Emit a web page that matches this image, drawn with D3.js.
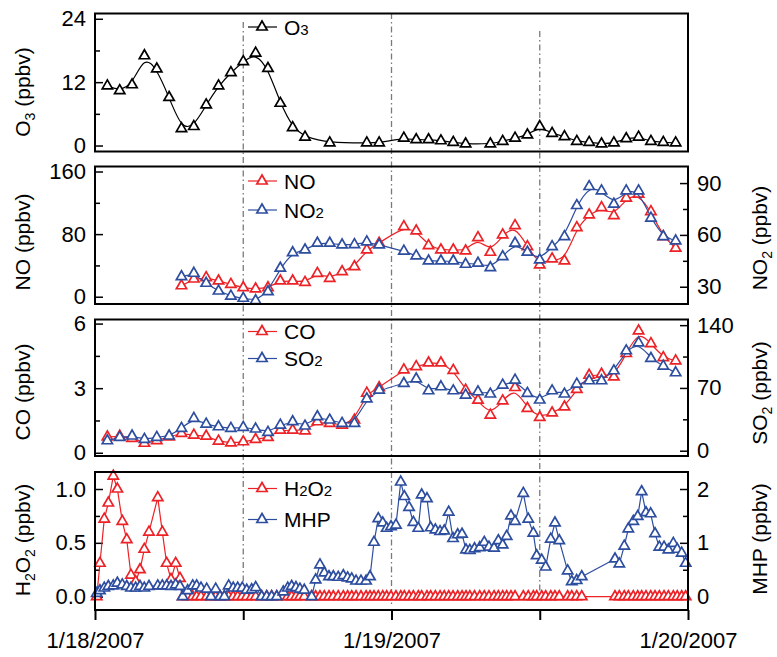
<!DOCTYPE html>
<html>
<head>
<meta charset="utf-8">
<script src="https://cdnjs.cloudflare.com/ajax/libs/d3/7.8.5/d3.min.js"></script>
<style>
  body { margin: 0; background: #fff; }
  svg { font-family: Arial, "Liberation Sans", sans-serif; }
</style>
</head>
<body>
<svg id="chart" width="777" height="657"></svg>
<script>
// hourly samples (hours after 1/18/2007 00:00)
const hours = [1, 2, 3, 4, 5, 6, 7, 8, 9, 10, 11, 12, 13, 14, 15, 16, 17, 18, 19, 20, 21, 22, 23, 24,
  25, 26, 27, 28, 29, 30, 31, 32, 33, 34, 35, 36, 37, 38, 39, 40, 41, 42, 43, 44, 45, 46, 47];

const o3 = [11.3, 10.4, 11.5, 17.0, 14.5, 9.1, 3.2, 3.6, 7.7, 11.3, 13.8, 15.9, 17.5, 14.6, 8.0, 3.4, 1.6, null,
  0.5, null, null, 0.5, 0.5, null, 1.4, 1.1, 1.1, 0.9, 0.6, 0.3, null, 0.3, 0.8, 1.4, 2.0, 3.6, 2.3, 1.7,
  0.8, 0.6, 0.3, 0.5, 1.3, 1.6, 0.8, 0.6, 0.5];

const no = [null, null, null, null, null, null, 14, 22.6, 24.4, 20.1, 15.8, 11.5, 9.9, 11.5, 20.1, 20.1, 18.4,
  29.9, 23.5, 32.0, 38.4, 59.8, 68.3, null, 89.6, 84.1, 65.3, 59.8, 59.8, 58.5, 75.5, 56.8, 79, 90.9, 64,
  40.6, 48.3, 45.7, 88.3, 104.6, 113.9, 103.7, 126, 131, 108.8, 76.8, 62];

const no2 = [null, null, null, null, null, null, 35.8, 37.8, 32, 27.5, 24.6, 23.3, 21.9, 27.1, 40.7, 49.7, 51.3,
  55.2, 55.2, 54.2, 54.4, 56.0, 54.2, null, 50.6, 47.9, 44.9, 44.9, 44.9, 43, 43.6, 41, 47.4, 55.2, 50,
  45.5, 53.2, 59, 77, 88, 85.5, 77.8, 85.5, 85.5, 69.7, 59, 56.5];

const co = [0.74, 0.77, 0.67, 0.44, 0.56, 0.74, 0.90, 0.82, 0.77, 0.54, 0.46, 0.51, 0.62, 0.71, 1.05, 1.05, 1.02,
  1.44, 1.36, 1.28, 1.52, 2.77, 3.02, null, 3.85, 4.0, 4.17, 4.17, 3.83, 2.91, 2.44, 1.75, 2.41, 3.03, 2.06,
  1.64, 1.85, 2.13, 2.94, 3.60, 3.65, 3.52, 4.61, 5.66, 5.07, 4.42, 4.27];

const so2 = [11.1, 14.9, 16.4, 12.7, 14.9, 16.4, 24.9, 36.1, 29.7, 26.7, 24.9, 26.1, 24.2, 20.5, 28.6, 32.3, 27.5,
  37.9, 34.2, 30.5, 30.5, 57.8, 67.6, null, 75, 80, 66.8, 71.3, 66.8, 62, 65.7, 63.2, 73.2, 78.7, 63.9,
  56.5, 66.8, 63.2, 74.3, 78, 78, 89.1, 111.4, 120.3, 102.9, 94.3, 86.9];

// peroxide samples (hours after 1/18/2007 00:00)
const t4 = [0.14, 0.40, 0.75, 1.08, 1.48, 1.81, 2.21, 2.57, 2.91, 3.29, 3.64, 3.99, 4.37, 5.08, 5.45, 5.80, 6.15,
  6.53, 6.88, 7.10, 7.50, 7.91, 8.23, 8.58, 9.04, 9.39, 9.77, 10.12, 10.47, 10.82, 11.19, 11.55, 11.92, 12.28,
  12.68, 13.01, 13.49, 13.90, 14.30, 14.71, 15.24, 15.60, 15.92, 16.27, 16.59, 16.94, 17.54, 17.86, 18.21,
  18.56, 18.94, 19.29, 19.69, 20.10, 20.45, 20.78, 21.13, 21.53, 21.94, 22.26, 22.58, 22.93, 23.29, 23.61,
  23.96, 24.36, 24.75, 25.04, 25.42, 25.77, 26.17, 26.44, 26.87, 27.17, 27.55, 27.93, 28.27, 28.63, 28.98,
  29.36, 29.71, 30.03, 30.34, 30.72, 31.14, 31.51, 31.89, 32.30, 32.65, 33.00, 33.32, 33.67, 34.00, 34.67,
  35.07, 35.48, 35.75, 36.16, 36.48, 36.89, 37.23, 37.58, 38.26, 38.59, 38.99, 39.40, 42.09, 42.44, 42.84,
  43.17, 43.57, 43.93, 44.25, 44.60, 44.98, 45.33, 45.68, 46.06, 46.41, 46.81, 47.13, 47.49, 47.81];

const h2o2 = [0.00, 0.31, 0.72, 0.87, 1.12, 1.00, 0.70, 0.53, 0.20, 0.14, 0.25, 0.44, 0.60, 0.92, 0.60, 0.31, 0.16,
  0.31, 0.17, 0, 0, 0, 0, 0, 0, 0, 0, 0, 0, 0, 0, 0, 0, 0, 0, 0, 0, 0, 0, 0, 0, 0, 0, 0, 0, 0, 0, 0, 0,
  0, 0, 0, 0, 0, 0, 0, 0, 0, 0, 0, 0, 0, 0, 0, 0, 0, 0, 0, 0, 0, 0, 0, 0, 0, 0, 0, 0, 0, 0, 0, 0, 0, 0,
  0, 0, 0, 0, 0, 0, 0, 0, 0, 0, 0, 0, 0, 0, 0, 0, 0, 0, 0, 0, 0, 0, 0, 0, 0, 0, 0, 0, 0, 0, 0, 0, 0, 0,
  0, 0, 0, 0, 0, 0];

const mhp = [0.06, 0.11, 0.16, 0.19, 0.20, 0.25, 0.22, 0.19, 0.16, 0.16, 0.19, 0.16, 0.19, 0.20, 0.20, 0.20, 0.19,
  0.22, 0.19, 0, 0.11, 0.20, 0.20, 0.16, 0.14, 0, 0.14, 0, 0, 0.20, 0.16, 0.16, 0.16, 0.12, 0.13, 0.17, 0, 0,
  0, 0, 0.09, 0.16, 0.19, 0.17, 0.14, 0.12, 0, 0.31, 0.59, 0.44, 0.37, 0.37, 0.36, 0.39, 0.35, 0.33, 0.29,
  0.29, 0.29, 0.37, 1.01, 1.45, 1.37, 1.27, 1.30, 1.33, 2.13, 1.86, 1.66, 1.38, 1.27, 1.89, 1.82, 1.28, 1.24,
  1.21, 1.22, 1.57, 1.08, 1.15, 1.16, 0.87, 0.86, 0.89, 0.91, 1.01, 0.92, 0.90, 1.04, 0.96, 1.12, 1.50, 1.40,
  1.92, 1.44, 1.18, 0.76, 0.68, 0.55, 1.07, 1.37, 1.04, 0.48, 0.28, 0.30, 0.37, 0.70, 0.61, 0.94, 1.26, 1.40,
  1.49, 1.95, 1.56, 1.54, 1.17, 0.92, 0.92, 0.87, 0.99, 0.88, 0.81, 0.62];

// tick labels
const o3Ticks = ['0', '12', '24'];
const noTicks = ['0', '80', '160'];
const no2Ticks = ['30', '60', '90'];
const coTicks = ['0', '3', '6'];
const so2Ticks = ['0', '70', '140'];
const h2o2Ticks = ['0.0', '0.5', '1.0'];
const mhpTicks = ['0', '1', '2'];
const dateTicks = [0, 12, 24, 36, 48];

const RED = '#ec2227';
const BLUE = '#2d4d9f';

const svg = d3.select('#chart');
const left = 95, right = 688;
const start = new Date(2007, 0, 18);
const toDate = h => new Date(start.getTime() + h * 3600e3);

const x = d3.scaleTime()
    .domain([start, new Date(2007, 0, 20)])
    .range([left, right]);

const pairs = (ts, vs) => ts.map((t, i) => ({t: t, v: vs[i]})).filter(d => d.v != null);

const panels = [
  {top: 13.5, bottom: 151.5,
    l: {domain: [-1.13, 25], ticks: [0, 12, 24], minor: [6, 18], labels: o3Ticks, title: 'O|3| (ppbv)', cy: 92},
    series: [{name: 'O|3', data: pairs(hours, o3), side: 'l', color: '#000', smooth: true}],
    legendY: [27]},
  {top: 166.5, bottom: 304,
    l: {domain: [-9.3, 166.4], ticks: [0, 80, 160], minor: [40, 120], labels: noTicks, title: 'NO (ppbv)', cy: 242},
    r: {domain: [20, 99.6], ticks: [30, 60, 90], minor: [45, 75], labels: no2Ticks, title: 'NO|2| (ppbv)', cy: 238},
    series: [
      {name: 'NO', data: pairs(hours, no), side: 'l', color: RED, smooth: true},
      {name: 'NO|2', data: pairs(hours, no2), side: 'r', color: BLUE, smooth: true}],
    legendY: [181, 210]},
  {top: 319.5, bottom: 456,
    l: {domain: [-0.15, 6.19], ticks: [0, 3, 6], minor: [1.5, 4.5], labels: coTicks, title: 'CO (ppbv)', cy: 392},
    r: {domain: [-5.9, 146.3], ticks: [0, 70, 140], minor: [35, 105], labels: so2Ticks, title: 'SO|2| (ppbv)', cy: 393},
    series: [
      {name: 'CO', data: pairs(hours, co), side: 'l', color: RED, smooth: true},
      {name: 'SO|2', data: pairs(hours, so2), side: 'r', color: BLUE, smooth: true}],
    legendY: [331.5, 358.5]},
  {top: 472, bottom: 610,
    l: {domain: [-0.124, 1.158], ticks: [0, 0.5, 1], minor: [0.25, 0.75], labels: h2o2Ticks, title: 'H|2|O|2| (ppbv)', cy: 540},
    r: {domain: [-0.248, 2.316], ticks: [0, 1, 2], minor: [0.5, 1.5], labels: mhpTicks, title: 'MHP (ppbv)', cy: 539},
    series: [
      {name: 'H|2|O|2', data: pairs(t4, h2o2), side: 'l', color: RED, smooth: false},
      {name: 'MHP', data: pairs(t4, mhp), side: 'r', color: BLUE, smooth: false}],
    legendY: [488.5, 519.5]}
];

// pieces split by '|': odd pieces are small digits
function richText(sel, str, smallSize, shift) {
  str.split('|').forEach((s, i) => {
    if (!s) return;
    const small = i % 2 === 1;
    sel.append('tspan')
        .attr('font-size', small ? smallSize : null)
        .attr('dy', small ? shift : (i > 0 && shift ? -shift : null))
        .text(s);
  });
}

// dash-dot day / noon guides
const guides = [{h: 12, y0: 22, y1: 600}, {h: 24, y0: 13, y1: 606}, {h: 36, y0: 31, y1: 597}];
svg.append('g').selectAll('line')
    .data(guides)
  .enter().append('line')
    .attr('x1', d => x(toDate(d.h)))
    .attr('x2', d => x(toDate(d.h)))
    .attr('y1', d => d.y0)
    .attr('y2', d => d.y1)
    .attr('stroke', '#7a7a7a')
    .attr('stroke-width', 1.3)
    .attr('stroke-dasharray', '6,3,1.5,3');

const tri = d3.symbol().type(d3.symbolTriangle).size(46);

function yAxis(g, axis, spec) {
  g.call(axis.tickValues(spec.ticks).tickSize(-8).tickPadding(9).tickFormat((d, i) => spec.labels[i]));
  g.select('.domain').remove();
  g.attr('font-size', 22).attr('font-family', null);
  g.selectAll('line').attr('stroke-width', 1.5);
}

function minorAxis(g, axis, spec) {
  g.call(axis.tickValues(spec.minor).tickSize(-5).tickFormat(''));
  g.select('.domain').remove();
  g.selectAll('line').attr('stroke-width', 1.5);
}

panels.forEach((p, pi) => {
  const yl = d3.scaleLinear().domain(p.l.domain).range([p.bottom, p.top]);
  const yr = p.r ? d3.scaleLinear().domain(p.r.domain).range([p.bottom, p.top]) : null;
  const g = svg.append('g');

  g.append('g').attr('transform', `translate(${left},0)`).call(s => yAxis(s, d3.axisLeft(yl), p.l));
  g.append('g').attr('transform', `translate(${left},0)`).call(s => minorAxis(s, d3.axisLeft(yl), p.l));
  g.append('text')
      .attr('transform', `translate(30,${p.l.cy}) rotate(-90)`)
      .attr('text-anchor', 'middle')
      .attr('font-size', 21)
      .call(t => richText(t, p.l.title, 14, 5));

  if (yr) {
    g.append('g').attr('transform', `translate(${right},0)`).call(s => yAxis(s, d3.axisRight(yr), p.r));
    g.append('g').attr('transform', `translate(${right},0)`).call(s => minorAxis(s, d3.axisRight(yr), p.r));
    g.append('text')
        .attr('transform', `translate(767,${p.r.cy}) rotate(-90)`)
        .attr('text-anchor', 'middle')
        .attr('font-size', 21)
        .call(t => richText(t, p.r.title, 14, 5));
  }

  p.series.forEach((s, si) => {
    const y = s.side === 'l' ? yl : yr;
    const line = d3.line()
        .x(d => x(toDate(d.t)))
        .y(d => y(d.v))
        .curve(s.smooth ? d3.curveBasis : d3.curveLinear);

    g.append('path')
        .datum(s.data)
        .attr('fill', 'none')
        .attr('stroke', s.color)
        .attr('stroke-width', 1.2)
        .attr('d', line);

    g.append('g').selectAll('path')
        .data(s.data)
      .enter().append('path')
        .attr('transform', d => `translate(${x(toDate(d.t))},${y(d.v)})`)
        .attr('d', tri)
        .attr('fill', '#fff')
        .attr('stroke', s.color)
        .attr('stroke-width', 1.7);

    // legend entry
    const ly = p.legendY[si];
    const lg = g.append('g');
    lg.append('line')
        .attr('x1', 248).attr('x2', 277)
        .attr('y1', ly).attr('y2', ly)
        .attr('stroke', s.color)
        .attr('stroke-width', 1.2);
    lg.append('path')
        .attr('transform', `translate(262,${ly})`)
        .attr('d', tri)
        .attr('fill', '#fff')
        .attr('stroke', s.color)
        .attr('stroke-width', 1.7);
    lg.append('text')
        .attr('x', 284)
        .attr('y', ly + 7.5)
        .attr('font-size', 21)
        .call(t => richText(t, s.name, 15, 0));
  });

  g.append('rect')
      .attr('x', left)
      .attr('y', p.top)
      .attr('width', right - left)
      .attr('height', p.bottom - p.top)
      .attr('fill', 'none')
      .attr('stroke', '#000')
      .attr('stroke-width', 2);
});

// date axis under the last panel
const fmt = d3.timeFormat('%-m/%-d/%Y');
const xAxis = d3.axisBottom(x)
    .tickValues(dateTicks.map(toDate))
    .tickSize(10)
    .tickPadding(12)
    .tickFormat(d => d.getHours() === 0 ? fmt(d) : '');

svg.append('g')
    .attr('transform', 'translate(0,610)')
    .call(xAxis)
    .call(g => g.select('.domain').remove())
    .attr('font-size', 22)
    .attr('font-family', null)
    .call(g => g.selectAll('line').attr('stroke-width', 2));
</script>
</body>
</html>
